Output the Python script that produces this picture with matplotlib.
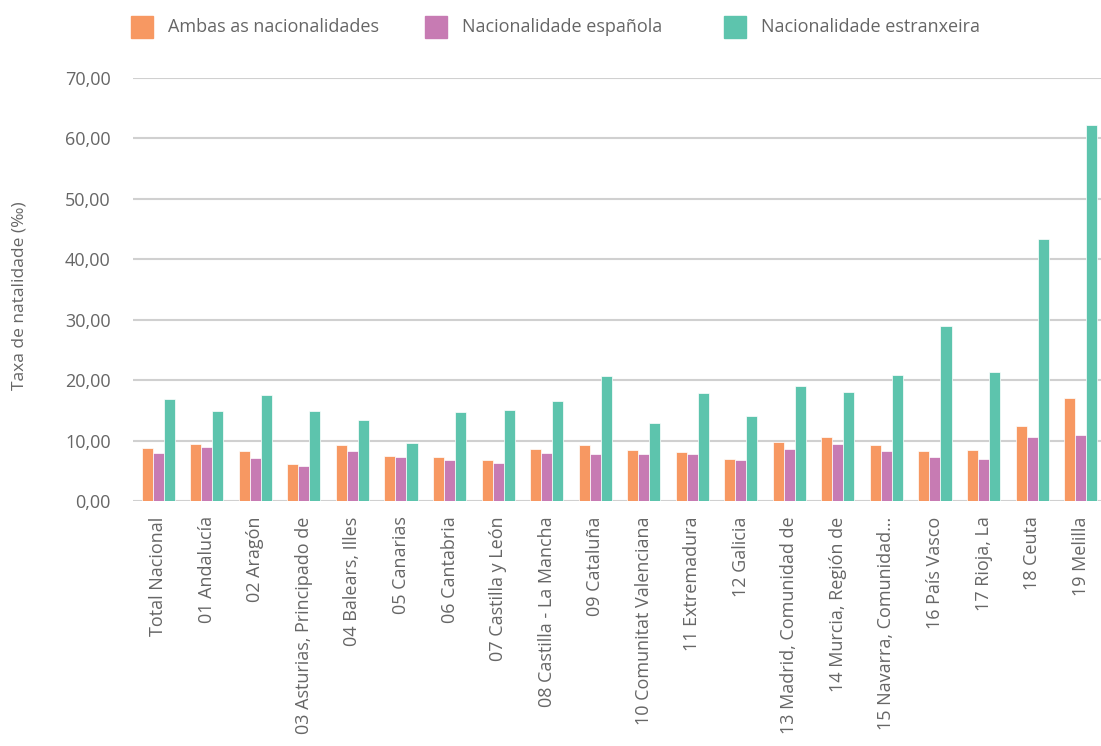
import matplotlib.pyplot as plt
import numpy as np
from matplotlib.patches import Rectangle

# Datos (taxa de natalidade, por mil)
comunidades = [
    "Total Nacional",
    "01 Andalucía",
    "02 Aragón",
    "03 Asturias, Principado de",
    "04 Balears, Illes",
    "05 Canarias",
    "06 Cantabria",
    "07 Castilla y León",
    "08 Castilla - La Mancha",
    "09 Cataluña",
    "10 Comunitat Valenciana",
    "11 Extremadura",
    "12 Galicia",
    "13 Madrid, Comunidad de",
    "14 Murcia, Región de",
    "15 Navarra, Comunidad…",
    "16 País Vasco",
    "17 Rioja, La",
    "18 Ceuta",
    "19 Melilla",
]
ambas = [8.77, 9.38, 8.33, 6.07, 9.20, 7.50, 7.28, 6.79, 8.60, 9.20,
         8.44, 8.10, 6.95, 9.70, 10.60, 9.20, 8.28, 8.44, 12.47, 17.10]
espanola = [7.95, 8.94, 7.12, 5.74, 8.33, 7.23, 6.84, 6.29, 7.95, 7.72,
            7.84, 7.78, 6.79, 8.60, 9.38, 8.22, 7.34, 6.95, 10.60, 10.93]
estranxeira = [16.90, 14.95, 17.60, 14.90, 13.46, 9.66, 14.68, 15.00, 16.55, 20.75,
               12.90, 17.83, 14.07, 19.10, 18.05, 20.90, 28.97, 21.36, 43.30, 62.25]
series = ["Ambas as nacionalidades", "Nacionalidade española", "Nacionalidade estranxeira"]
colores = ["#F79862", "#C77BB3", "#5DC4AD"]
yticks = [0, 10, 20, 30, 40, 50, 60, 70]

plt.rcParams["font.family"] = ["Open Sans", "DejaVu Sans"]
gris = "#666666"

fig = plt.figure(figsize=(11.01, 7.46), dpi=100)
ax = fig.add_axes([133 / 1101, 1 - 501 / 746, 1 - 133 / 1101, (501 - 78) / 746])

x = np.arange(len(comunidades))
ancho = 0.227
for i, (valores, color) in enumerate(zip([ambas, espanola, estranxeira], colores)):
    ax.bar(x + (i - 1) * ancho, valores, ancho, color=color, edgecolor="white",
           linewidth=0.5, zorder=3)

ax.set_xlim(-0.52, len(comunidades) - 0.58)
ax.set_ylim(0, 70)
ax.set_yticks(yticks)
ax.set_yticklabels([f"{v:.2f}".replace(".", ",") for v in yticks])
ax.set_xticks(x)
ax.set_xticklabels(comunidades, rotation=90, ha="center", va="top")
ax.tick_params(axis="both", length=0, labelsize=13, labelcolor=gris)
ax.tick_params(axis="y", pad=16)
ax.tick_params(axis="x", pad=11)
ax.grid(axis="y", color="#d0d0d0", linewidth=1.5, zorder=0)
for s in ax.spines.values():
    s.set_visible(False)
ax.set_ylabel("Taxa de natalidade (‰)", fontsize=12.5, color=gris)
ax.yaxis.set_label_coords(-0.1095, 0.485)

# Lenda
lenda_x = [131, 425, 724]
for px, nome, color in zip(lenda_x, series, colores):
    fig.patches.append(Rectangle((px / 1101, 1 - 38 / 746), 22 / 1101, 22 / 746,
                                 transform=fig.transFigure, color=color))
    fig.text((px + 37) / 1101, 1 - 27 / 746, nome, fontsize=13, color=gris,
             va="center", ha="left")

fig.savefig("out.png", dpi=100)
